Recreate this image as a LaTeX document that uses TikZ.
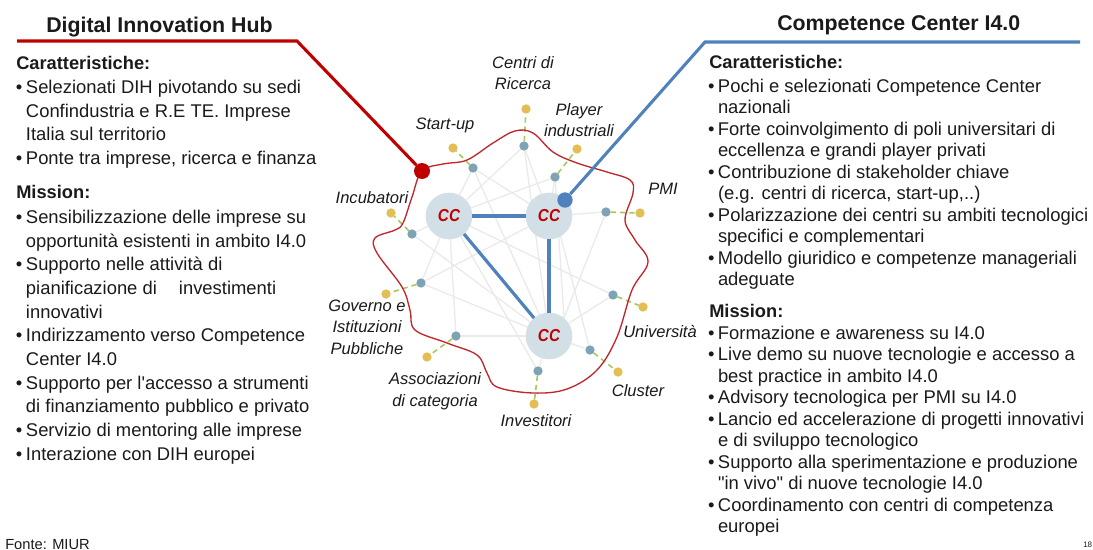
\documentclass[tikz,border=0pt]{standalone}
\usepackage{fontspec}
\usetikzlibrary{backgrounds}
\setmainfont{Liberation Sans}
\newfontfamily\plainq{Liberation Sans}
\definecolor{redline}{HTML}{C00000}
\definecolor{blobred}{HTML}{C0272D}
\definecolor{blueline}{HTML}{4F81BD}
\definecolor{ccfill}{HTML}{D3DFE6}
\definecolor{satfill}{HTML}{7DA3B5}
\definecolor{yel}{HTML}{E3BE55}
\definecolor{dashgreen}{HTML}{A9C75A}
\definecolor{linkgrey}{HTML}{EAEAEA}
\definecolor{ink}{HTML}{1A1A1A}
\newcommand{\bu}{\makebox[7.5pt][l]{•}}
\newcommand{\ind}{\hspace*{7.5pt}}
\tikzset{
  x=0.75pt,y=-0.75pt,
  body/.style={anchor=north west,inner sep=0pt,outer sep=0pt,align=left,text=ink,font=\fontsize{13.8}{17.75}\selectfont},
  bodyr/.style={body,font=\fontsize{13.8}{16.1}\selectfont},
  head/.style={anchor=base west,inner sep=0pt,text=ink,font=\fontsize{13.7}{16}\selectfont\bfseries},
  title/.style={anchor=base west,inner sep=0pt,text=ink,font=\fontsize{16}{18}\selectfont\bfseries},
  lab/.style={inner sep=0pt,align=center,text=ink,font=\fontsize{12.4}{16.2}\selectfont\itshape},
  ccnode/.style={circle,fill=ccfill,minimum size=35pt,inner sep=0pt,outer sep=0pt,text=redline,font=\fontsize{13}{14}\selectfont\bfseries\itshape},
  sat/.style={circle,fill=satfill,minimum size=7pt,inner sep=0pt,outer sep=0pt},
  yeldot/.style={circle,fill=yel,minimum size=7pt,inner sep=0pt,outer sep=0pt},
  link/.style={draw=linkgrey,line width=1pt},
  strong/.style={draw=blueline,line width=2.4pt},
  spoke/.style={draw=dashgreen,line width=1.2pt,dash pattern=on 4pt off 3pt},
  redwire/.style={draw=redline,line width=2.3pt},
  bluewire/.style={draw=blueline,line width=2.3pt},
}
\begin{document}
\begin{tikzpicture}
\useasboundingbox (0,0) rectangle (1093,550);
% centre hubs
\node[ccnode] (cc1) at (449,216) {\scalebox{0.88}[1]{CC}};
\node[ccnode] (cc2) at (549,216) {\scalebox{0.88}[1]{CC}};
\node[ccnode] (cc3) at (549,336) {\scalebox{0.88}[1]{CC}};
% satellites and their yellow ends
\foreach \n/\sx/\sy/\yx/\yy in {
  centri/524/146/526/109, startup/473/168/453/148, player/555/177/577/149,
  pmi/606/212/640/213, incub/412/234/391/213, governo/421/283/386/294,
  assoc/456/336/427/357, invest/538/371/534/404, cluster/590/350/618/372,
  univ/613/295/643/307}{
  \node[sat] (s\n) at (\sx,\sy) {};
  \node[yeldot] (y\n) at (\yx,\yy) {};
  \draw[spoke] (s\n) -- (y\n);
}
% grey links, behind the hubs
\begin{scope}[on background layer]
\foreach \a/\b in {
  scentri/cc1, scentri/cc2, scentri/cc3, sstartup/cc1, sstartup/cc2, sstartup/cc3,
  splayer/cc1, splayer/cc2, splayer/cc3.50, spmi/cc2, spmi/cc3.50,
  sincub/cc1, sincub/cc3, sgoverno/cc1, sgoverno/cc2, sgoverno/cc3,
  sassoc/cc1, sassoc/cc3, sinvest/cc1, sinvest/cc3, scluster/cc2.-60, scluster/cc3,
  suniv/cc1, suniv/cc3}{
  \draw[link] (\a) -- (\b);
}
\end{scope}
% strong links
\draw[strong] (cc1) -- (cc2);
\draw[strong] (cc1) -- (cc3);
\draw[strong] (cc2) -- (cc3);
% red boundary
\draw[blobred,line width=1pt] plot[smooth cycle,tension=0.6] coordinates {
  (422,171) (443,164) (467,160) (493,143) (515,131) (533,133) (553,152) (577,163)
  (607,172) (630,180) (633,193) (625,220) (635,240) (648,262) (632,290) (617,337)
  (597,370) (567,389) (533,393) (497,387) (487,373) (477,355) (447,343) (415,330)
  (410,310) (402,287) (377,253) (375,238) (395,230) (403,223) (412,197)};
% pointers
\coordinate (r0) at (17,41);
\coordinate (r1) at (297,41);
\coordinate (b0) at (1080,42);
\coordinate (b1) at (705,42);
\node[circle,fill=redline,minimum size=12pt,inner sep=0pt] (reddot) at (422,171) {};
\node[circle,fill=blueline,minimum size=11.5pt,inner sep=0pt] (bluedot) at (565,200) {};
\draw[redwire] (r0) -- (r1) -- (reddot);
\draw[bluewire] (b0) -- (b1) -- (bluedot);
% diagram labels
\node[lab] (l1) at (523,73) {Centri di\\Ricerca};
\node[lab] (l2) at (445,125) {Start-up};
\node[lab] (l3) at (579,120) {Player\\industriali};
\node[lab] (l4) at (663,189) {PMI};
\node[lab] (l5) at (372,198) {Incubatori};
\node[lab] (l6) at (367,327) {Governo e\\Istituzioni\\Pubbliche};
\node[lab] (l7) at (435,391) {Associazioni\\di categoria};
\node[lab] (l8) at (536,421) {Investitori};
\node[lab] (l9) at (638,391) {Cluster};
\node[lab] (l10) at (660,331) {Università};
% titles
\node[title] (t1) at (46,32) {Digital Innovation Hub};
\node[title] (t2) at (777,30) {Competence Center I4.0};
% left column
\node[head] (h1) at (16,69) {Caratteristiche:};
\node[body] (b1t) at (16,80) {\bu Selezionati DIH pivotando su sedi\\\ind Confindustria e R.E TE. Imprese\\\ind Italia sul territorio\\\bu Ponte tra imprese, ricerca e finanza};
\node[head] (h2) at (16,198) {Mission:};
\node[body] (b2t) at (16,210) {\bu Sensibilizzazione delle imprese su\\\ind opportunità esistenti in ambito I4.0\\\bu Supporto nelle attività di\\\ind pianificazione di\hspace{1.2em}investimenti\\\ind innovativi\\\bu Indirizzamento verso Competence\\\ind Center I4.0\\\bu Supporto per {\plainq l'accesso} a strumenti\\\ind di finanziamento pubblico e privato\\\bu Servizio di mentoring alle imprese\\\bu Interazione con DIH europei};
% right column
\node[head] (h3) at (709,68) {Caratteristiche:};
\node[bodyr] (b3t) at (708,79) {\bu Pochi e selezionati Competence Center\\\ind nazionali\\\bu Forte coinvolgimento di poli universitari di\\\ind eccellenza e grandi player privati\\\bu Contribuzione di stakeholder chiave\\\ind (e.g. centri di ricerca, start-up,..)\\\bu Polarizzazione dei centri su ambiti tecnologici\\\ind specifici e complementari\\\bu Modello giuridico e competenze manageriali\\\ind adeguate};
\node[head] (h4) at (709,317) {Mission:};
\node[bodyr] (b4t) at (708,326) {\bu Formazione e awareness su I4.0\\\bu Live demo su nuove tecnologie e accesso a\\\ind best practice in ambito I4.0\\\bu Advisory tecnologica per PMI su I4.0\\\bu Lancio ed accelerazione di progetti innovativi\\\ind e di sviluppo tecnologico\\\bu Supporto alla sperimentazione e produzione\\\ind {\plainq "in vivo"} di nuove tecnologie I4.0\\\bu Coordinamento con centri di competenza\\\ind europei};
% footer
\node[anchor=base west,inner sep=0pt,text=ink,font=\fontsize{11}{12}\selectfont] (src) at (5,549) {Fonte: MIUR};
\node[anchor=base west,inner sep=0pt,text=ink,font=\fontsize{6}{7}\selectfont] (pg) at (1083,547) {18};
\end{tikzpicture}
\end{document}
